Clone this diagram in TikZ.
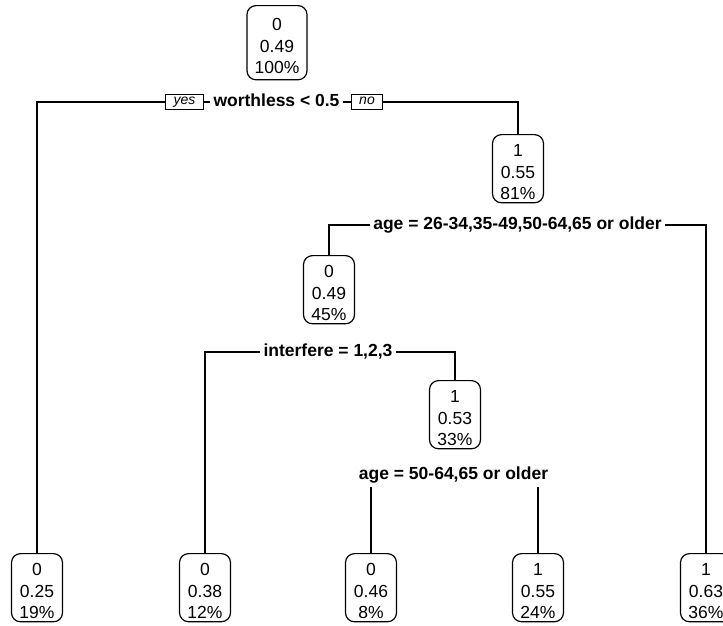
\documentclass[tikz,border=0pt]{standalone}
\usepackage{fontspec}
\setmainfont{Liberation Sans}

\newcommand{\nodetext}[3]{\rule{0pt}{19pt}#1\\#2\\#3}

\begin{document}
\begin{tikzpicture}[x=1pt, y=-1pt, line width=1.2pt,
    treenode/.style={draw, rounded corners=9pt, align=center, anchor=north,
        inner xsep=7pt, inner ysep=3pt, minimum width=51pt,
        font=\fontsize{17.5}{21.5}\selectfont},
    splitlabel/.style={inner sep=3pt, text height=13pt, text depth=4pt,
        font=\fontsize{17.5}{21}\selectfont\bfseries},
    yesno/.style={draw, fill=white, line width=0.9pt, inner xsep=8pt, inner ysep=2pt,
        text height=8pt, text depth=3pt, font=\fontsize{14}{16}\selectfont\itshape}]

        \useasboundingbox (0,0) rectangle (723,625);

        % inner nodes
        \node[treenode, inner ysep=6pt, minimum width=60pt] (root) at (277,5) {\nodetext{0}{0.49}{100\%}};
        \node[treenode] (n2) at (518,134) {\nodetext{1}{0.55}{81\%}};
        \node[treenode] (n3) at (329,255) {\nodetext{0}{0.49}{45\%}};
        \node[treenode] (n5) at (455,380) {\nodetext{1}{0.53}{33\%}};

        % leaves
        \node[treenode] (l1) at (37,553) {\nodetext{0}{0.25}{19\%}};
        \node[treenode] (l2) at (205,553) {\nodetext{0}{0.38}{12\%}};
        \node[treenode] (l3) at (371,553) {\nodetext{0}{0.46}{8\%}};
        \node[treenode] (l4) at (538,553) {\nodetext{1}{0.55}{24\%}};
        \node[treenode] (l5) at (706,553) {\nodetext{1}{0.63}{36\%}};

        % splits
        \node[splitlabel] (s1) at (276.5,102) {worthless < 0.5};
        \node[yesno] (yes) at (184.5,102) {yes};
        \node[yesno] (no) at (367,102) {no};
        \draw (yes.west) -| (l1.north);
        \draw (yes.east) -- (s1.west);
        \draw (s1.east) -- (no.west);
        \draw (no.east) -| (n2.north);

        \node[splitlabel] (s2) at (517.5,225) {age = 26-34,35-49,50-64,65 or older};
        \draw (s2.west) -| (n3.north);
        \draw (s2.east) -| (l5.north);

        \node[splitlabel] (s3) at (328,352) {interfere = 1,2,3};
        \draw (s3.west) -| (l2.north);
        \draw (s3.east) -| (n5.north);

        \node[splitlabel] (s4) at (453.5,475) {age = 50-64,65 or older};
        \draw (l3.north) -- (l3.north |- s4.south);
        \draw (l4.north) -- (l4.north |- s4.south);
    \end{tikzpicture}
\end{document}
